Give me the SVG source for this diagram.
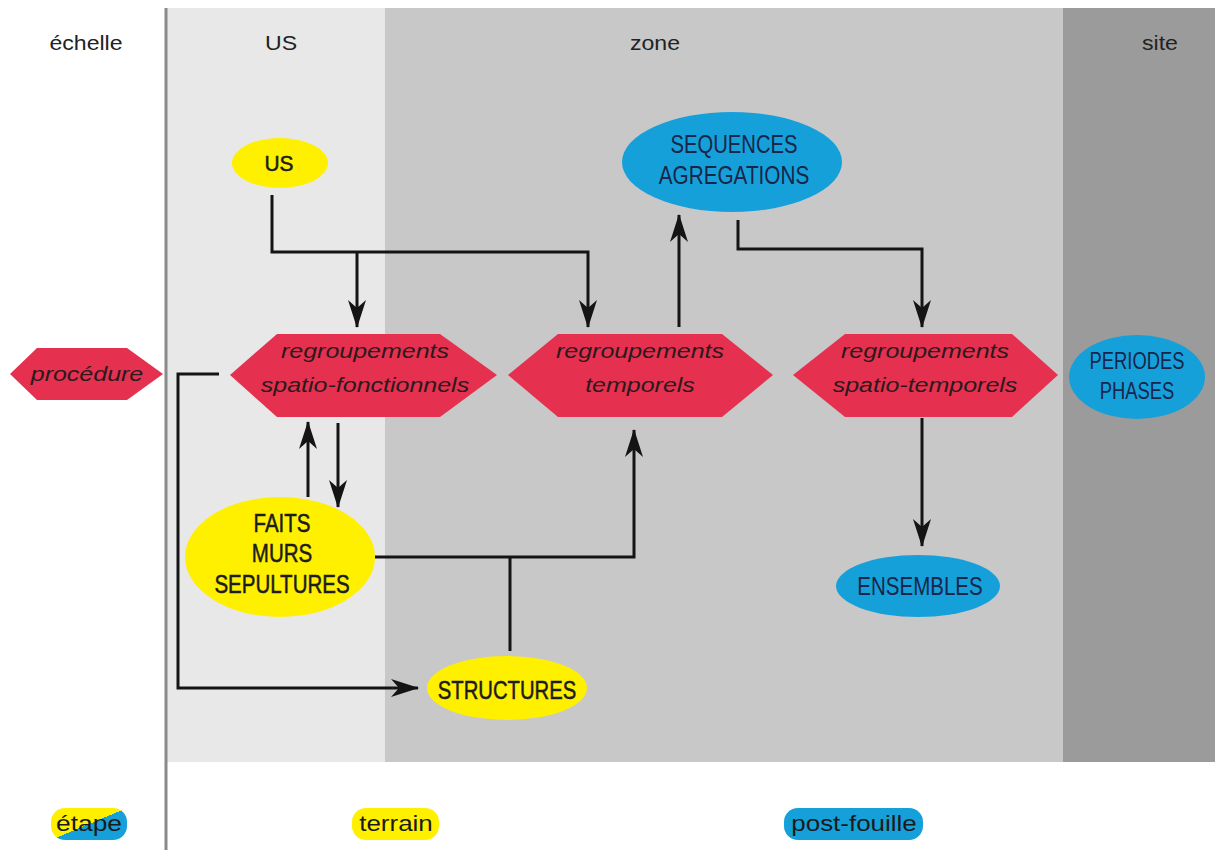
<svg xmlns="http://www.w3.org/2000/svg" width="1215" height="850" viewBox="0 0 1215 850">
<defs>
<style>
.hdr{font-family:"Liberation Sans",Arial,sans-serif;font-size:21px;fill:#222;text-anchor:middle}
.node{font-family:"Liberation Sans",Arial,sans-serif;font-size:25px;fill:#1c1c1c;text-anchor:middle}
.ynode{stroke:#1c1c1c;stroke-width:0.5}
.blue-t{fill:#18264a}
.hex-t{font-family:"Liberation Sans",Arial,sans-serif;font-style:italic;font-size:20px;fill:#2a1a1e;text-anchor:middle}
.leg{font-family:"Liberation Sans",Arial,sans-serif;font-size:22px;fill:#1a1a1a;text-anchor:middle}
.yel{fill:#fff000}
.blu{fill:#16a0da}
.hex{fill:#e6304f}
.conn{fill:none;stroke:#141414;stroke-width:3;stroke-linejoin:miter}
</style>
<marker id="arr" viewBox="0 0 28 18" refX="27" refY="9" markerWidth="28" markerHeight="18" markerUnits="userSpaceOnUse" orient="auto">
<path d="M0,0 L28,9 L0,18 L8,9 Z" fill="#141414"/>
</marker>
<linearGradient id="split" x1="0" y1="0" x2="1" y2="1">
<stop offset="0.5" stop-color="#fff000"/>
<stop offset="0.5" stop-color="#16a0da"/>
</linearGradient>
</defs>

<g id="background">
<rect x="0" y="0" width="1215" height="850" fill="#ffffff"/>
<rect x="167" y="8" width="218" height="754" fill="#e8e8e8"/>
<rect x="385" y="8" width="678" height="754" fill="#c8c8c8"/>
<rect x="1063" y="8" width="152" height="754" fill="#9b9b9b"/>
<line x1="166" y1="8" x2="166" y2="850" stroke="#8a8a8a" stroke-width="3"/>
</g>

<g id="headers">
<text class="hdr" transform="translate(86,50) scale(1.1,1)">échelle</text>
<text class="hdr" transform="translate(281,50) scale(1.1,1)">US</text>
<text class="hdr" transform="translate(655,50) scale(1.1,1)">zone</text>
<text class="hdr" transform="translate(1160,50) scale(1.1,1)">site</text>
</g>

<g id="connectors">
<polyline class="conn" points="272,195 272,252 588,252 588,327" marker-end="url(#arr)"/>
<line class="conn" x1="357" y1="252" x2="357" y2="327" marker-end="url(#arr)"/>
<line class="conn" x1="679" y1="327" x2="679" y2="215" marker-end="url(#arr)"/>
<polyline class="conn" points="738,220 738,249 922,249 922,327" marker-end="url(#arr)"/>
<line class="conn" x1="308" y1="497" x2="308" y2="422" marker-end="url(#arr)"/>
<line class="conn" x1="338" y1="423" x2="338" y2="507" marker-end="url(#arr)"/>
<polyline class="conn" points="375,557 634,557 634,430" marker-end="url(#arr)"/>
<line class="conn" x1="510" y1="557" x2="510" y2="651"/>
<polyline class="conn" points="219,374 178,374 178,688 418,688" marker-end="url(#arr)"/>
<line class="conn" x1="922" y1="418" x2="922" y2="546" marker-end="url(#arr)"/>
</g>

<g id="node-us">
<ellipse class="yel" cx="280" cy="163" rx="48" ry="25"/>
<text class="node ynode" style="font-size:22px" transform="translate(279,171) scale(0.95,1)">US</text>
</g>

<g id="node-sequences">
<ellipse class="blu" cx="732" cy="162" rx="110" ry="50"/>
<text class="node blue-t" transform="translate(734,153) scale(0.81,1)">SEQUENCES</text>
<text class="node blue-t" transform="translate(734,184) scale(0.83,1)">AGREGATIONS</text>
</g>

<g id="node-procedure">
<polygon class="hex" points="10,374 37,348 127,348 163,374 127,400 37,400"/>
<text class="hex-t" transform="translate(87,381) scale(1.25,1)">procédure</text>
</g>

<g id="node-spatio-fonctionnels">
<polygon class="hex" points="230,375 277,334 440,334 497,375 440,417 277,417"/>
<text class="hex-t" transform="translate(365,358) scale(1.25,1)">regroupements</text>
<text class="hex-t" transform="translate(365,392) scale(1.25,1)">spatio-fonctionnels</text>
</g>

<g id="node-temporels">
<polygon class="hex" points="508,375 558,334 722,334 773,375 722,417 558,417"/>
<text class="hex-t" transform="translate(640,358) scale(1.25,1)">regroupements</text>
<text class="hex-t" transform="translate(640,392) scale(1.25,1)">temporels</text>
</g>

<g id="node-spatio-temporels">
<polygon class="hex" points="793,375 845,334 1012,334 1058,375 1012,417 845,417"/>
<text class="hex-t" transform="translate(925,358) scale(1.25,1)">regroupements</text>
<text class="hex-t" transform="translate(925,392) scale(1.25,1)">spatio-temporels</text>
</g>

<g id="node-periodes">
<ellipse class="blu" cx="1137" cy="377" rx="68" ry="42"/>
<text class="node blue-t" style="font-size:23px" transform="translate(1137,369) scale(0.8,1)">PERIODES</text>
<text class="node blue-t" style="font-size:23px" transform="translate(1137,399) scale(0.8,1)">PHASES</text>
</g>

<g id="node-faits">
<ellipse class="yel" cx="280" cy="557" rx="95" ry="60"/>
<text class="node ynode" transform="translate(282,532) scale(0.82,1)">FAITS</text>
<text class="node ynode" transform="translate(282,562) scale(0.82,1)">MURS</text>
<text class="node ynode" transform="translate(282,593) scale(0.82,1)">SEPULTURES</text>
</g>

<g id="node-structures">
<ellipse class="yel" cx="507" cy="688" rx="80" ry="32"/>
<text class="node ynode" transform="translate(507,699) scale(0.81,1)">STRUCTURES</text>
</g>

<g id="node-ensembles">
<ellipse class="blu" cx="918" cy="586" rx="82" ry="31"/>
<text class="node blue-t" transform="translate(920,595) scale(0.82,1)">ENSEMBLES</text>
</g>

<g id="legend">
<rect x="51" y="808" width="76" height="32" rx="14" fill="url(#split)"/>
<text class="leg" transform="translate(89,831) scale(1.2,1)">étape</text>
<rect x="352" y="808" width="87" height="32" rx="14" class="yel"/>
<text class="leg" transform="translate(396,831) scale(1.18,1)">terrain</text>
<rect x="784" y="808" width="139" height="32" rx="14" class="blu"/>
<text class="leg" transform="translate(854,831) scale(1.18,1)">post-fouille</text>
</g>
</svg>
